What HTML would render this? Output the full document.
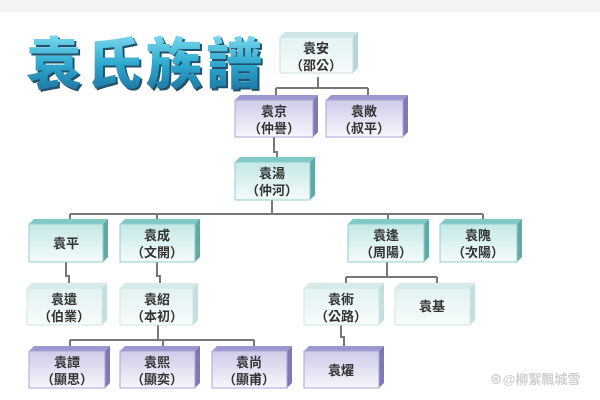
<!DOCTYPE html>
<html><head><meta charset="utf-8"><style>
body{margin:0;background:#fff;}
svg{display:block}
text{font-family:"Liberation Sans","Noto Sans CJK TC",sans-serif;font-weight:bold;fill:#333;text-anchor:middle}
</style></head><body>
<svg width="600" height="400" viewBox="0 0 600 400" xmlns="http://www.w3.org/2000/svg">
<defs>
<linearGradient id="gT" x1="0" y1="0" x2="0" y2="1"><stop offset="0" stop-color="#c4e8e6"/><stop offset="1" stop-color="#f4fbfb"/></linearGradient>
<linearGradient id="gP" x1="0" y1="0" x2="0" y2="1"><stop offset="0" stop-color="#cdcbe8"/><stop offset="1" stop-color="#f7f6fc"/></linearGradient>
<linearGradient id="gL" x1="0" y1="0" x2="0" y2="1"><stop offset="0" stop-color="#e2f2f2"/><stop offset="1" stop-color="#f7fbfb"/></linearGradient>
<linearGradient id="gTitle" x1="0" y1="0" x2="0" y2="1"><stop offset="0" stop-color="#7fdcef"/><stop offset="0.5" stop-color="#2ea8cf"/><stop offset="1" stop-color="#1b6f9a"/></linearGradient>
</defs>
<rect x="0" y="0" width="600" height="12" fill="#f3f3f3"/>
<text x="146" y="84" style="font-size:56px;font-weight:900;letter-spacing:4px;fill:#24506a" transform="translate(2,2)">袁氏族譜</text>
<text x="146" y="84" style="font-size:56px;font-weight:900;letter-spacing:4px;fill:url(#gTitle)">袁氏族譜</text>
<g stroke="#777" stroke-width="2" fill="none">
<path d="M318 77V88M276 88H368M276 88V95M368 88V95"/>
<path d="M274 137V152H277V157"/>
<path d="M272 200V214M70 214H483M70 214V220M157 214V220M388 214V220M483 214V220"/>
<path d="M66 262V276H69V283M157 262V276H160V283"/>
<path d="M387 262V277M346 277H437M346 277V283M437 277V283"/>
<path d="M158 325V340M70 340H254M70 340V346M163 340V346M254 340V346"/>
<path d="M341 325V337H344V346"/>
</g>
<g id="boxes"></g>
<g font-size="13">
<!-- boxes drawn below -->
</g>
<g>
<!-- generic box: front x,y,w,h depth 5 -->
<!-- light 袁安 -->
<polygon points="280,37 285,32 358,32 353,37" fill="#cfe6e6"/><polygon points="353,37 358,32 358,68 353,73" fill="#b5d6d6"/><rect x="280" y="37" width="73" height="36" fill="url(#gL)" stroke="#c9e0e0"/>
<!-- purple 袁京 袁敞 -->
<polygon points="235,100 240,95 318,95 313,100" fill="#9b98cf"/><polygon points="313,100 318,95 318,132 313,137" fill="#7d79b8"/><rect x="235" y="100" width="78" height="37" fill="url(#gP)" stroke="#a9a6d6"/>
<polygon points="326,100 331,95 408,95 403,100" fill="#9b98cf"/><polygon points="403,100 408,95 408,132 403,137" fill="#7d79b8"/><rect x="326" y="100" width="77" height="37" fill="url(#gP)" stroke="#a9a6d6"/>
<!-- teal 袁湯 -->
<polygon points="235,162 240,157 315,157 310,162" fill="#7fc8c5"/><polygon points="310,162 315,157 315,195 310,200" fill="#5fa9a7"/><rect x="235" y="162" width="75" height="38" fill="url(#gT)" stroke="#8fcfcc"/>
<!-- row3 teal -->
<polygon points="29,224 34,219 108,219 103,224" fill="#7fc8c5"/><polygon points="103,224 108,219 108,257 103,262" fill="#5fa9a7"/><rect x="29" y="224" width="74" height="38" fill="url(#gT)" stroke="#8fcfcc"/>
<polygon points="120,224 125,219 200,219 195,224" fill="#7fc8c5"/><polygon points="195,224 200,219 200,257 195,262" fill="#5fa9a7"/><rect x="120" y="224" width="75" height="38" fill="url(#gT)" stroke="#8fcfcc"/>
<polygon points="348,224 353,219 429,219 424,224" fill="#7fc8c5"/><polygon points="424,224 429,219 429,257 424,262" fill="#5fa9a7"/><rect x="348" y="224" width="76" height="38" fill="url(#gT)" stroke="#8fcfcc"/>
<polygon points="440,224 445,219 522,219 517,224" fill="#7fc8c5"/><polygon points="517,224 522,219 522,257 517,262" fill="#5fa9a7"/><rect x="440" y="224" width="77" height="38" fill="url(#gT)" stroke="#8fcfcc"/>
<!-- row4 light -->
<polygon points="27,288 32,283 107,283 102,288" fill="#d6eaea"/><polygon points="102,288 107,283 107,320 102,325" fill="#c2dede"/><rect x="27" y="288" width="75" height="37" fill="url(#gL)" stroke="#d0e5e5"/>
<polygon points="120,288 125,283 198,283 193,288" fill="#d6eaea"/><polygon points="193,288 198,283 198,320 193,325" fill="#c2dede"/><rect x="120" y="288" width="73" height="37" fill="url(#gL)" stroke="#d0e5e5"/>
<polygon points="304,288 309,283 384,283 379,288" fill="#d6eaea"/><polygon points="379,288 384,283 384,320 379,325" fill="#c2dede"/><rect x="304" y="288" width="75" height="37" fill="url(#gL)" stroke="#d0e5e5"/>
<polygon points="395,288 400,283 475,283 470,288" fill="#d6eaea"/><polygon points="470,288 475,283 475,320 470,325" fill="#c2dede"/><rect x="395" y="288" width="75" height="37" fill="url(#gL)" stroke="#d0e5e5"/>
<!-- row5 purple -->
<polygon points="29,351 34,346 110,346 105,351" fill="#9b98cf"/><polygon points="105,351 110,346 110,383 105,388" fill="#7d79b8"/><rect x="29" y="351" width="76" height="37" fill="url(#gP)" stroke="#a9a6d6"/>
<polygon points="120,351 125,346 200,346 195,351" fill="#9b98cf"/><polygon points="195,351 200,346 200,383 195,388" fill="#7d79b8"/><rect x="120" y="351" width="75" height="37" fill="url(#gP)" stroke="#a9a6d6"/>
<polygon points="212,351 217,346 292,346 287,351" fill="#9b98cf"/><polygon points="287,351 292,346 292,383 287,388" fill="#7d79b8"/><rect x="212" y="351" width="75" height="37" fill="url(#gP)" stroke="#a9a6d6"/>
<polygon points="304,351 309,346 384,346 379,351" fill="#9b98cf"/><polygon points="379,351 384,346 384,383 379,388" fill="#7d79b8"/><rect x="304" y="351" width="75" height="37" fill="url(#gP)" stroke="#a9a6d6"/>
</g>
<g font-size="13">
<text x="316" y="53">袁安</text><text x="316" y="70">（邵公）</text>
<text x="274" y="116">袁京</text><text x="274" y="133">（仲譽）</text>
<text x="364" y="116">袁敞</text><text x="364" y="133">（叔平）</text>
<text x="272" y="178">袁湯</text><text x="272" y="195">（仲河）</text>
<text x="66" y="248">袁平</text>
<text x="157" y="240">袁成</text><text x="157" y="257">（文開）</text>
<text x="386" y="240">袁逢</text><text x="386" y="257">（周陽）</text>
<text x="478" y="240">袁隗</text><text x="478" y="257">（次陽）</text>
<text x="64" y="304">袁遺</text><text x="64" y="321">（伯業）</text>
<text x="157" y="304">袁紹</text><text x="157" y="321">（本初）</text>
<text x="341" y="304">袁術</text><text x="341" y="321">（公路）</text>
<text x="432" y="311">袁基</text>
<text x="67" y="367">袁譚</text><text x="67" y="384">（顯思）</text>
<text x="157" y="367">袁熙</text><text x="157" y="384">（顯奕）</text>
<text x="249" y="367">袁尚</text><text x="249" y="384">（顯甫）</text>
<text x="341" y="375">袁燿</text>
</g>
<text x="535" y="384" style="font-size:13px;fill:#cfcfcf">⊗@柳絮飄城雪</text>
</svg>
</body></html>
